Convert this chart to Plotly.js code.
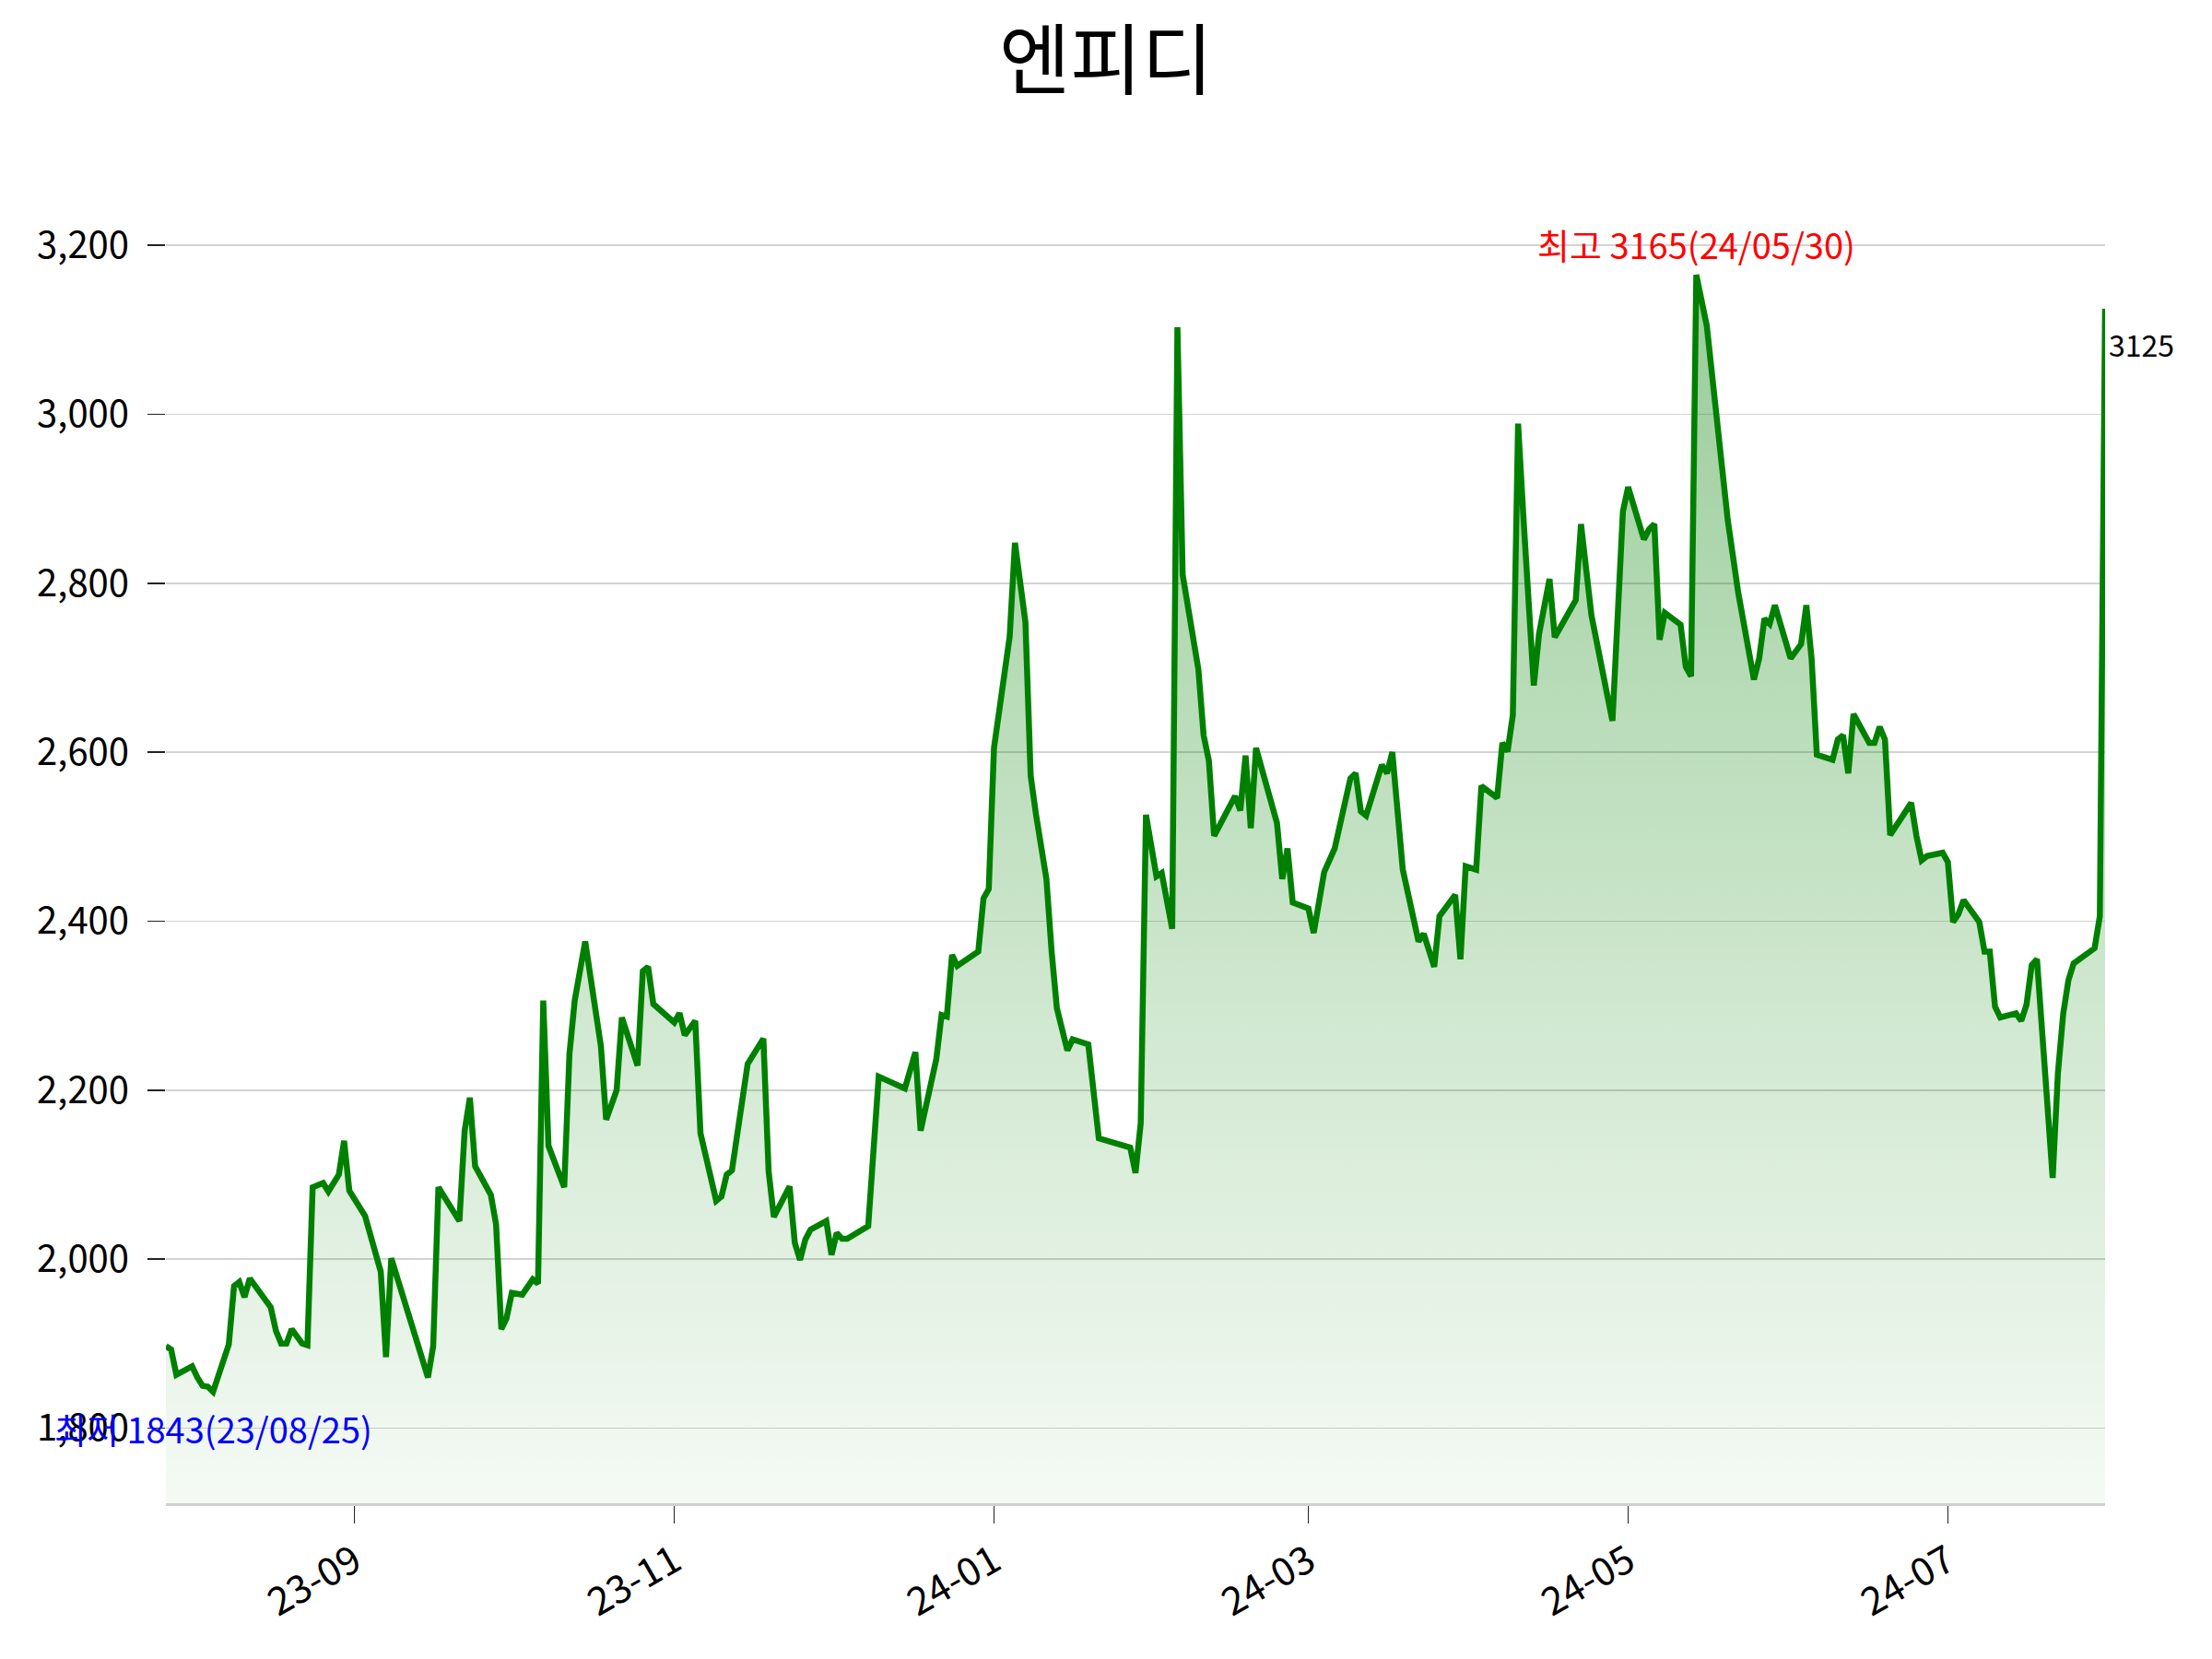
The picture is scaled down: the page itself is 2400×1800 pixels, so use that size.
<!DOCTYPE html>
<html>
<head>
<meta charset="utf-8">
<script src="https://cdn.plot.ly/plotly-3.0.1.min.js"></script>
<style>body{margin:0;background:#fff}</style>
</head>
<body>
<div id="chart" style="width:2400px;height:1800px"></div>
<script>
const FONT = "Noto Sans CJK KR, Noto Sans, sans-serif";
const title_text = "엔피디";

// daily close (vertices only)
const dates = [
  "2023-07-27","2023-07-28","2023-07-29","2023-08-01","2023-08-02","2023-08-03","2023-08-04","2023-08-05",
  "2023-08-08","2023-08-09","2023-08-10","2023-08-11","2023-08-12","2023-08-16","2023-08-17","2023-08-18",
  "2023-08-19","2023-08-20","2023-08-22","2023-08-23","2023-08-24","2023-08-26","2023-08-27","2023-08-29",
  "2023-08-30","2023-08-31","2023-09-03","2023-09-06","2023-09-07","2023-09-08","2023-09-15","2023-09-16",
  "2023-09-17","2023-09-21","2023-09-22","2023-09-23","2023-09-24","2023-09-27","2023-09-28","2023-09-29",
  "2023-09-30","2023-10-01","2023-10-03","2023-10-05","2023-10-06","2023-10-07","2023-10-08","2023-10-11",
  "2023-10-12","2023-10-13","2023-10-15","2023-10-18","2023-10-19","2023-10-21","2023-10-22","2023-10-25",
  "2023-10-26","2023-10-27","2023-10-28","2023-11-01","2023-11-02","2023-11-03","2023-11-05","2023-11-06",
  "2023-11-09","2023-11-10","2023-11-11","2023-11-12","2023-11-15","2023-11-18","2023-11-19","2023-11-20",
  "2023-11-23","2023-11-24","2023-11-25","2023-11-26","2023-11-27","2023-11-30","2023-12-01","2023-12-02",
  "2023-12-03","2023-12-04","2023-12-08","2023-12-10","2023-12-15","2023-12-17","2023-12-18","2023-12-21",
  "2023-12-22","2023-12-23","2023-12-24","2023-12-25","2023-12-29","2023-12-30","2023-12-31","2024-01-01",
  "2024-01-04","2024-01-05","2024-01-07","2024-01-08","2024-01-09","2024-01-11","2024-01-12","2024-01-13",
  "2024-01-15","2024-01-16","2024-01-19","2024-01-21","2024-01-27","2024-01-28","2024-01-29","2024-01-30",
  "2024-02-01","2024-02-02","2024-02-04","2024-02-05","2024-02-06","2024-02-09","2024-02-10","2024-02-11",
  "2024-02-12","2024-02-16","2024-02-17","2024-02-18","2024-02-19","2024-02-20","2024-02-24","2024-02-25",
  "2024-02-26","2024-02-27","2024-03-01","2024-03-02","2024-03-04","2024-03-06","2024-03-09","2024-03-10",
  "2024-03-11","2024-03-12","2024-03-15","2024-03-16","2024-03-17","2024-03-18","2024-03-19","2024-03-22",
  "2024-03-23","2024-03-25","2024-03-26","2024-03-29","2024-03-30","2024-03-31","2024-04-02","2024-04-03",
  "2024-04-06","2024-04-07","2024-04-08","2024-04-09","2024-04-10","2024-04-11","2024-04-13","2024-04-14",
  "2024-04-16","2024-04-17","2024-04-21","2024-04-22","2024-04-24","2024-04-28","2024-04-30","2024-05-01",
  "2024-05-04","2024-05-05","2024-05-06","2024-05-07","2024-05-08","2024-05-11","2024-05-12","2024-05-13",
  "2024-05-14","2024-05-16","2024-05-18","2024-05-20","2024-05-22","2024-05-25","2024-05-26","2024-05-27",
  "2024-05-28","2024-05-29","2024-06-01","2024-06-03","2024-06-04","2024-06-05","2024-06-06","2024-06-09",
  "2024-06-10","2024-06-11","2024-06-12","2024-06-13","2024-06-16","2024-06-17","2024-06-18","2024-06-19",
  "2024-06-20","2024-06-22","2024-06-24","2024-06-25","2024-06-26","2024-06-27","2024-06-30","2024-07-01",
  "2024-07-02","2024-07-03","2024-07-04","2024-07-07","2024-07-08","2024-07-09","2024-07-10","2024-07-11",
  "2024-07-14","2024-07-15","2024-07-16","2024-07-17","2024-07-18","2024-07-21","2024-07-22","2024-07-23",
  "2024-07-24","2024-07-25","2024-07-29","2024-07-30","2024-07-31"
];
const prices = [
  1897,1893,1863,1873,1860,1850,1849,1843,
  1899,1968,1973,1955,1977,1943,1915,1900,
  1900,1917,1900,1898,2085,2090,2080,2100,
  2140,2081,2051,1985,1884,2001,1860,1897,
  2085,2045,2152,2191,2110,2076,2041,1917,
  1930,1960,1958,1976,1971,2306,2134,2085,
  2243,2306,2376,2252,2165,2200,2286,2229,
  2341,2346,2302,2280,2291,2265,2282,2149,
  2069,2074,2100,2105,2231,2261,2104,2050,
  2086,2019,1999,2023,2035,2045,2005,2031,
  2024,2024,2039,2216,2202,2245,2152,2237,
  2289,2287,2360,2347,2364,2427,2438,2605,
  2737,2848,2754,2572,2527,2450,2364,2297,
  2247,2260,2254,2143,2132,2102,2161,2526,
  2453,2457,2391,3103,2810,2698,2620,2590,
  2501,2548,2531,2596,2510,2605,2516,2450,
  2486,2422,2415,2386,2458,2486,2569,2575,
  2530,2525,2585,2575,2600,2520,2461,2376,
  2385,2346,2406,2431,2355,2465,2461,2560,
  2546,2611,2601,2644,2989,2880,2679,2740,
  2805,2736,2780,2870,2762,2637,2885,2914,
  2852,2864,2870,2733,2765,2751,2701,2690,
  3165,3105,2995,2875,2789,2686,2711,2758,
  2752,2774,2711,2728,2774,2711,2597,2591,
  2615,2620,2575,2645,2611,2611,2630,2615,
  2502,2522,2540,2501,2472,2477,2481,2470,
  2399,2408,2425,2399,2364,2364,2299,2286,
  2291,2282,2301,2348,2355,2096,2220,2290,
  2330,2350,2368,2406,3125
];
const high_label_date = "24/05/30",
  low_label_date = "23/08/25";

const x_range = ["2023-07-27", "2024-07-31"],
  y_range = [1711, 3330];

var i_max = prices.indexOf(Math.max(...prices)),
  i_min = prices.indexOf(Math.min(...prices)),
  i_last = prices.length - 1;

var trace = {
  x: dates,
  y: prices,
  type: "scatter",
  mode: "lines",
  line: {color: "green", width: 6.5},
  fill: "tozeroy",
  fillgradient: {
    type: "vertical",
    start: y_range[0],
    stop: prices[i_max],
    colorscale: [[0, "rgba(0,128,0,0.04)"], [1, "rgba(0,128,0,0.40)"]]
  },
  hoverinfo: "skip"
};

var layout = {
  width: 2400,
  height: 1800,
  margin: {l: 180, r: 116, t: 147, b: 169},
  paper_bgcolor: "white",
  plot_bgcolor: "white",
  font: {family: FONT, color: "black", size: 40},
  showlegend: false,
  title: {
    text: title_text,
    font: {family: FONT, size: 84, color: "black"},
    xref: "container", x: 0.5, xanchor: "center",
    yref: "container", y: 0.963, yanchor: "middle"
  },
  xaxis: {
    type: "date",
    range: x_range,
    tick0: "2023-09-01",
    dtick: "M2",
    tickformat: "%y-%m",
    tickangle: -30,
    ticks: "outside",
    ticklen: 19,
    tickwidth: 1.5,
    tickcolor: "#222",
    showgrid: false,
    zeroline: false,
    showline: true,
    linecolor: "#d0d0d0",
    linewidth: 3,
    tickfont: {size: 42}
  },
  yaxis: {
    range: y_range,
    tick0: 1800,
    dtick: 200,
    tickformat: ",d",
    ticks: "outside",
    ticklen: 19,
    tickwidth: 1.5,
    tickcolor: "#222",
    ticklabelstandoff: 12,
    showgrid: true,
    gridcolor: "#d3d3d3",
    gridwidth: 1.5,
    zeroline: false,
    showline: false,
    tickfont: {size: 40}
  },
  annotations: [
    {
      x: dates[i_max], y: prices[i_max],
      text: "최고 " + prices[i_max] + "(" + high_label_date + ")",
      showarrow: false, xanchor: "center", yanchor: "middle", yshift: 34,
      font: {family: FONT, size: 38, color: "red"}
    },
    {
      x: dates[i_min], y: prices[i_min],
      text: "최저 " + prices[i_min] + "(" + low_label_date + ")",
      showarrow: false, xanchor: "center", yanchor: "middle", yshift: -39,
      font: {family: FONT, size: 38, color: "blue"}
    },
    {
      x: dates[i_last], y: prices[i_last],
      text: String(prices[i_last]),
      showarrow: false, xanchor: "left", yanchor: "middle", xshift: 2, yshift: -38,
      font: {family: FONT, size: 32, color: "black"}
    }
  ]
};

Plotly.newPlot("chart", [trace], layout, {staticPlot: true});
</script>
</body>
</html>
